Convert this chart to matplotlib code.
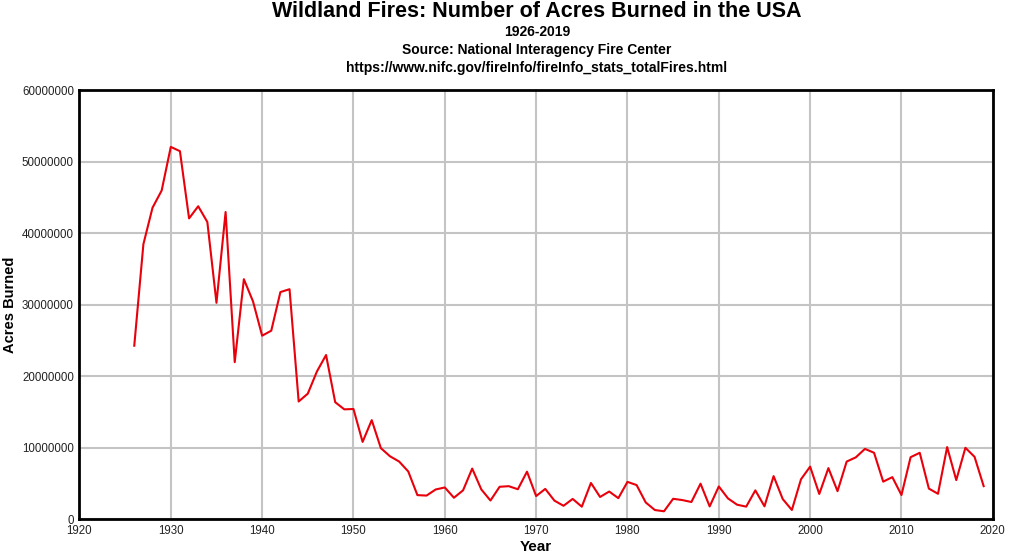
import matplotlib
matplotlib.use('Agg')
import matplotlib.pyplot as plt
from matplotlib.ticker import MultipleLocator

# ── Data (NIFC total acres burned) ──────────────────────────────────────────
years = list(range(1926, 2020))
acres = [
    24300000, 38500000, 43600000, 46000000, 52100000, 51500000, 42100000,
    43800000, 41600000, 30300000, 43000000, 22000000, 33600000, 30500000,
    25700000, 26400000, 31800000, 32200000, 16500000, 17600000, 20700000,
    23000000, 16400000, 15400000, 15452000, 10848000, 13893000, 9977000,
    8841000, 8104000, 6715000, 3409000, 3344000, 4197000, 4478000,
    3042000, 4079000, 7121000, 4197000, 2652000, 4574000, 4659000,
    4232000, 6689000, 3278565, 4278000, 2641000, 1916000, 2879000,
    1791000, 5109000, 3152644, 3910000, 2986000, 5260825, 4814206,
    2382036, 1323666, 1148409, 2896147, 2719162, 2447296, 5009290,
    1827310, 4621621, 2953578, 2069929, 1797574, 4073579, 1840546,
    6065998, 2856959, 1329704, 5626093, 7393493, 3570911, 7184712,
    3960842, 8097880, 8689389, 9873745, 9328045, 5292468, 5921786,
    3422724, 8711367, 9326238, 4319546, 3595613, 10125149, 5509995,
    10026086, 8767492, 4664364,
]

TITLE = 'Wildland Fires: Number of Acres Burned in the USA'
SUBTITLES = [
    '1926-2019',
    'Source: National Interagency Fire Center',
    'https://www.nifc.gov/fireInfo/fireInfo_stats_totalFires.html',
]

plt.rcParams['font.family'] = ['Liberation Sans', 'DejaVu Sans']

fig = plt.figure(figsize=(10.11, 5.58), dpi=100, facecolor='white')
ax = fig.add_axes([0.0786, 0.069, 0.9034, 0.769])

ax.plot(years, acres, color='#e8000b', linewidth=1.5, zorder=3)

ax.set_xlim(1920, 2020)
ax.set_ylim(0, 60000000)
ax.xaxis.set_major_locator(MultipleLocator(10))
ax.yaxis.set_major_locator(MultipleLocator(10000000))
ax.yaxis.set_major_formatter(plt.FuncFormatter(lambda v, p: f'{int(v)}'))

ax.grid(True, color='#c4c4c4', linewidth=1.5, zorder=0)
ax.set_axisbelow(True)
for sp in ax.spines.values():
    sp.set_linewidth(2)
    sp.set_color('black')
ax.tick_params(length=0, labelsize=8.3, colors='#222222', pad=4)

ax.set_xlabel('Year', fontsize=11, fontweight='bold', labelpad=2)
ax.set_ylabel('Acres Burned', fontsize=10.5, fontweight='bold')
ax.yaxis.set_label_coords(-0.068, 0.5)

fig.text(0.531, 0.979, TITLE, ha='center', va='center',
         fontsize=15.5, fontweight='bold')
for i, s in enumerate(SUBTITLES):
    fig.text(0.531, 0.942 - i * 0.0315, s, ha='center', va='center',
             fontsize=10, fontweight='bold')

fig.savefig('out.png', dpi=100, facecolor='white')
